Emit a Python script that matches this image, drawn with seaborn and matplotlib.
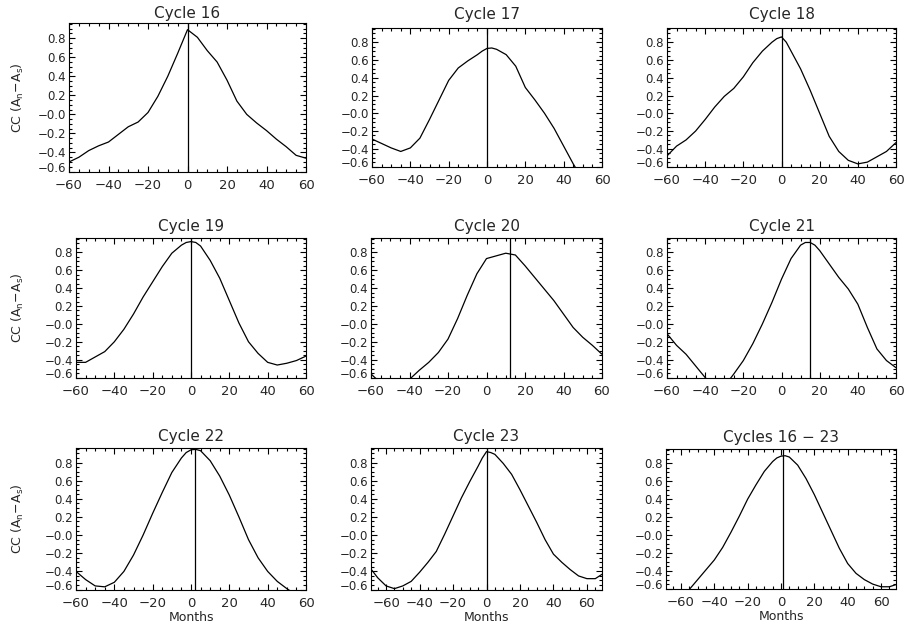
import numpy as np
import pandas as pd
import matplotlib
matplotlib.use("Agg")
import matplotlib.pyplot as plt
import seaborn as sns
from matplotlib.ticker import MultipleLocator, FixedLocator, FixedFormatter

# ---------------- data ----------------
titles = ["Cycle 16", "Cycle 17", "Cycle 18",
          "Cycle 19", "Cycle 20", "Cycle 21",
          "Cycle 22", "Cycle 23", "Cycles 16 \u2212 23"]

lags_16 = [-60, -55, -50, -45, -40, -35, -30, -25, -20, -15, -10, -5, 0,
           5, 10, 15, 20, 25, 30, 35, 40, 45, 50, 55, 60]
cc_16 = [-0.50, -0.45, -0.38, -0.33, -0.29, -0.21, -0.13, -0.08, 0.02, 0.19, 0.40, 0.64, 0.89,
         0.81, 0.67, 0.55, 0.36, 0.14, 0.00, -0.09, -0.17, -0.26, -0.34, -0.43, -0.46]

lags_17 = [-60, -55, -50, -45, -40, -35, -30, -25, -20, -15, -10, -5, -2.5, 0, 2.5,
           5, 10, 15, 20, 25, 30, 35, 40, 45, 50, 55, 60]
cc_17 = [-0.29, -0.34, -0.39, -0.43, -0.39, -0.28, -0.07, 0.15, 0.37, 0.51, 0.59, 0.66, 0.70, 0.73, 0.735,
         0.72, 0.66, 0.53, 0.29, 0.15, 0.00, -0.17, -0.37, -0.57, -0.75, -0.85, -0.90]

lags_18 = [-60, -55, -50, -45, -40, -35, -30, -25, -20, -15, -10, -5, -2.5, 0, 2.5,
           5, 10, 15, 20, 25, 30, 35, 40, 45, 50, 55, 60]
cc_18 = [-0.48, -0.37, -0.30, -0.20, -0.07, 0.07, 0.19, 0.28, 0.41, 0.57, 0.70, 0.80, 0.84, 0.86, 0.80,
         0.70, 0.50, 0.26, 0.00, -0.26, -0.43, -0.53, -0.57, -0.55, -0.49, -0.43, -0.33]

lags_19 = [-60, -55, -50, -45, -40, -35, -30, -25, -20, -15, -10, -5, -2.5, 0, 2.5,
           5, 10, 15, 20, 25, 30, 35, 40, 45, 50, 55, 60]
cc_19 = [-0.43, -0.43, -0.37, -0.31, -0.20, -0.06, 0.11, 0.30, 0.47, 0.64, 0.79, 0.88, 0.91, 0.92, 0.91,
         0.87, 0.71, 0.51, 0.26, 0.01, -0.20, -0.33, -0.43, -0.46, -0.44, -0.41, -0.36]

lags_20 = [-60, -55, -50, -45, -40, -35, -30, -25, -20, -15, -10, -5, 0,
           5, 10, 15, 20, 25, 30, 35, 40, 45, 50, 55, 60]
cc_20 = [-0.56, -0.66, -0.72, -0.70, -0.62, -0.52, -0.43, -0.32, -0.17, 0.06, 0.32, 0.56, 0.73,
         0.76, 0.79, 0.77, 0.65, 0.52, 0.39, 0.26, 0.11, -0.04, -0.15, -0.24, -0.34]

lags_21 = [-60, -55, -50, -45, -40, -35, -30, -25, -20, -15, -10, -5, 0,
           5, 10, 12.5, 15, 17.5, 20, 25, 30, 35, 40, 45, 50, 55, 60]
cc_21 = [-0.11, -0.24, -0.34, -0.47, -0.60, -0.70, -0.70, -0.56, -0.41, -0.22, 0.00, 0.24, 0.50,
         0.73, 0.88, 0.91, 0.91, 0.88, 0.82, 0.67, 0.52, 0.39, 0.22, -0.04, -0.28, -0.41, -0.49]

lags_22 = [-60, -55, -50, -45, -40, -35, -30, -25, -20, -15, -10, -5, -2.5, 0, 2.5,
           5, 10, 15, 20, 25, 30, 35, 40, 45, 50, 55, 60]
cc_22 = [-0.40, -0.49, -0.56, -0.57, -0.52, -0.40, -0.22, 0.00, 0.24, 0.47, 0.69, 0.85, 0.91, 0.94, 0.945,
         0.93, 0.82, 0.65, 0.44, 0.20, -0.05, -0.25, -0.40, -0.51, -0.59, -0.66, -0.70]

lags_23 = [-70, -65, -60, -55, -50, -45, -40, -35, -30, -25, -20, -15, -10, -5, -2.5, 0, 2.5,
           5, 10, 15, 20, 25, 30, 35, 40, 45, 50, 55, 60, 65, 70]
cc_23 = [-0.35, -0.47, -0.56, -0.59, -0.56, -0.51, -0.41, -0.30, -0.18, 0.01, 0.21, 0.41, 0.59, 0.76, 0.85, 0.92, 0.91,
         0.89, 0.79, 0.67, 0.50, 0.32, 0.14, -0.05, -0.21, -0.30, -0.38, -0.45, -0.48, -0.48, -0.42]

lags_all = [-70, -65, -60, -55, -50, -45, -40, -35, -30, -25, -20, -15, -10, -5, -2.5, 0, 2.5,
            5, 10, 15, 20, 25, 30, 35, 40, 45, 50, 55, 60, 65, 70]
cc_all = [-0.72, -0.70, -0.67, -0.61, -0.50, -0.39, -0.28, -0.14, 0.03, 0.21, 0.40, 0.56, 0.71, 0.82, 0.86, 0.88, 0.885,
          0.87, 0.78, 0.63, 0.45, 0.25, 0.05, -0.15, -0.32, -0.43, -0.50, -0.55, -0.58, -0.58, -0.55]

peak_lags = [0, 0, 0, 0, 12, 15, 2, 0, 1]

series_x = [lags_16, lags_17, lags_18, lags_19, lags_20, lags_21, lags_22, lags_23, lags_all]
series_y = [cc_16, cc_17, cc_18, cc_19, cc_20, cc_21, cc_22, cc_23, cc_all]

y_ticks = [-0.6, -0.4, -0.2, 0.0, 0.2, 0.4, 0.6, 0.8]
y_tick_labels = ["\u22120.6", "\u22120.4", "\u22120.2", "\u22120.0", "0.2", "0.4", "0.6", "0.8"]
x_ticks = [-60, -40, -20, 0, 20, 40, 60]

# ---------------- layout (pixel boxes: left, right, top, bottom) ----------------
W, H = 905, 633
boxes = [(69, 306, 23, 172), (372, 602, 28, 167), (667, 896, 28, 167),
         (76, 306, 238, 378), (371, 602, 238, 378), (667, 896, 238, 378),
         (76, 306, 448, 590), (371, 602, 448, 590), (666, 896, 449, 589)]
xlims = [(-60, 60)] * 7 + [(-69, 69), (-69, 69)]
title_pads = [3.5, 6.5, 6.5, 5, 5, 5, 5, 5, 5]

sns.set_theme(style="ticks")
plt.rcParams["font.family"] = ["DejaVu Sans"]
plt.rcParams["mathtext.default"] = "regular"

fig = plt.figure(figsize=(W / 100, H / 100), dpi=100)
fig.patch.set_facecolor("white")

for i in range(9):
    l, r, t, b = boxes[i]
    ax = fig.add_axes([l / W, 1 - b / H, (r - l) / W, (b - t) / H])
    ax.set_facecolor("white")
    df = pd.DataFrame({"Months": series_x[i], "CC": series_y[i]})
    sns.lineplot(data=df, x="Months", y="CC", ax=ax, color="black", linewidth=0.9)
    ax.axvline(peak_lags[i], color="black", linewidth=0.9)
    ax.set_xlim(*xlims[i])
    ax.set_ylim(-0.605, 0.96)
    ax.xaxis.set_major_locator(FixedLocator(x_ticks))
    ax.xaxis.set_minor_locator(MultipleLocator(5))
    ax.yaxis.set_major_locator(FixedLocator(y_ticks))
    ax.yaxis.set_major_formatter(FixedFormatter(y_tick_labels))
    ax.yaxis.set_minor_locator(MultipleLocator(0.05))
    ax.tick_params(which="both", direction="in", top=True, right=True,
                   color="black", width=0.8)
    ax.tick_params(which="major", length=4)
    ax.tick_params(which="minor", length=2)
    ax.tick_params(axis="x", labelsize=9.5, pad=5)
    ax.tick_params(axis="y", labelsize=8.5, pad=2)
    for sp in ax.spines.values():
        sp.set_color("black")
        sp.set_linewidth(0.8)
    ax.set_title(titles[i], fontsize=11, pad=title_pads[i])
    if i >= 6:
        ax.set_xlabel("Months", fontsize=9, labelpad=1)
    else:
        ax.set_xlabel("")
    if i % 3 == 0:
        ax.set_ylabel("CC (A$_n$$-$A$_s$)", fontsize=9)
        ax.yaxis.set_label_coords((26 - l) / (r - l), 0.5)
    else:
        ax.set_ylabel("")
    ticks = ax.yaxis.get_major_ticks()
    ticks[0].label1.set_verticalalignment("baseline")

fig.savefig("out.png", dpi=100, facecolor="white")
